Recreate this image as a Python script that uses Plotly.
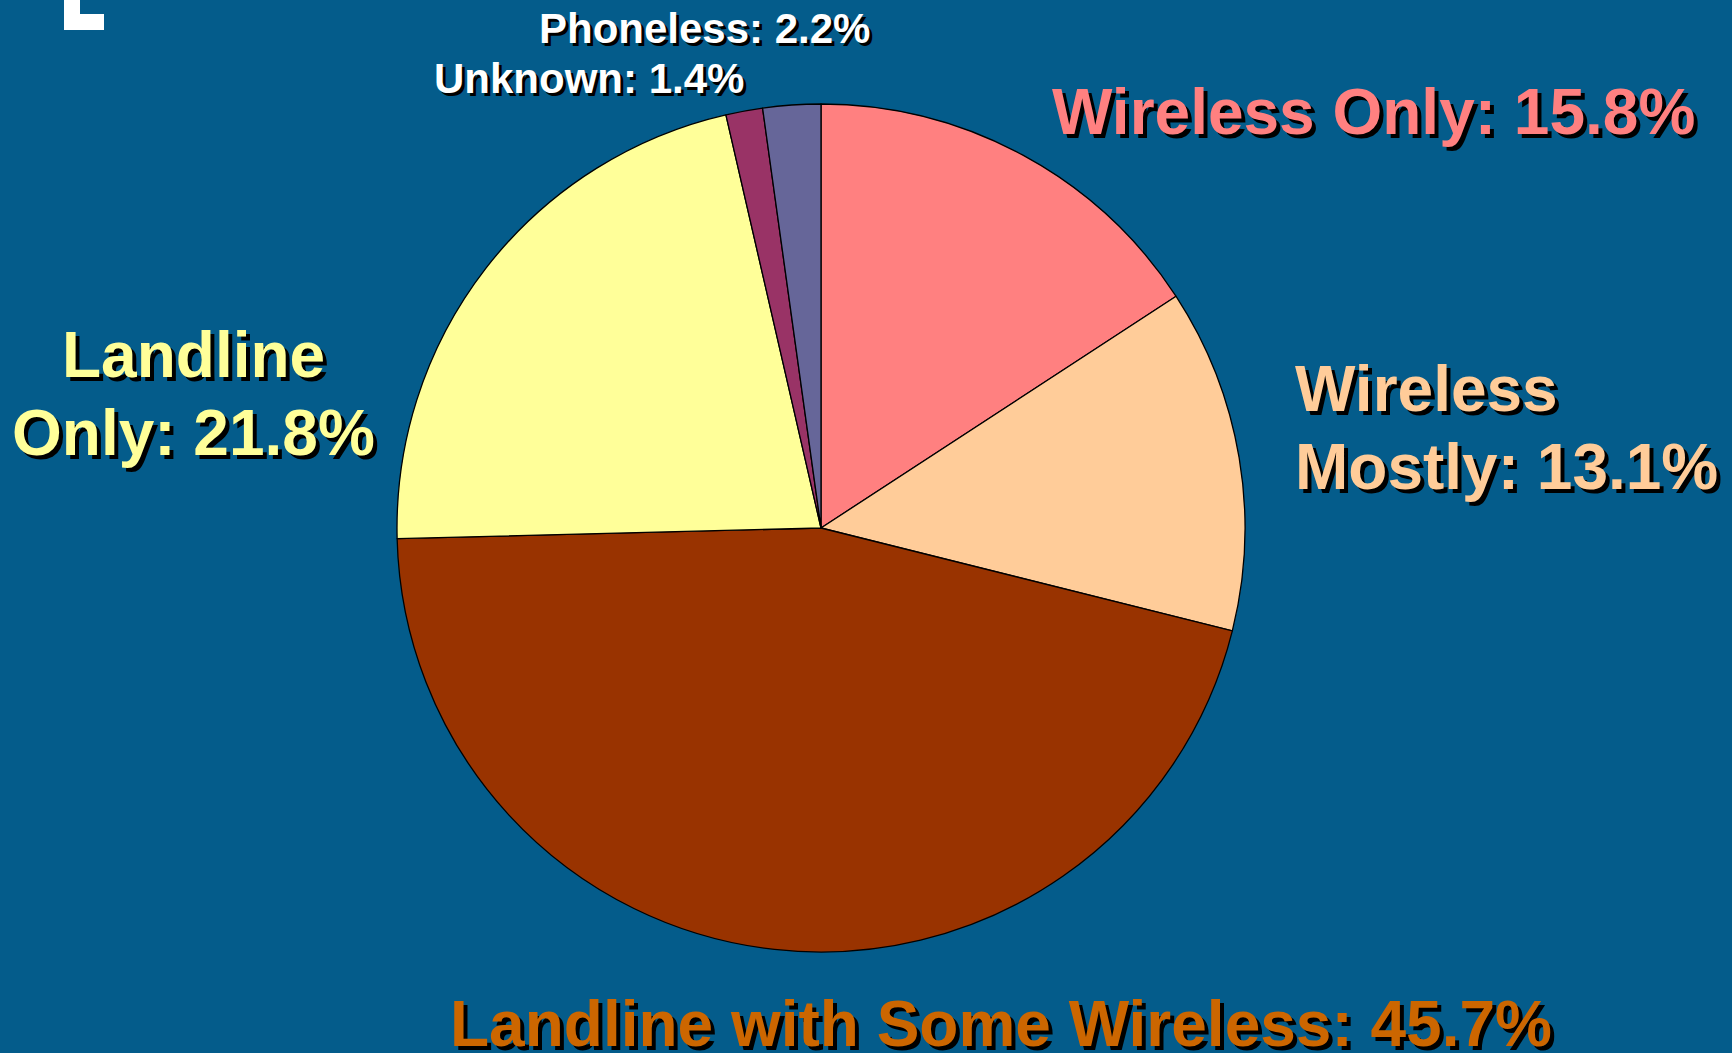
import plotly.graph_objects as go

W, H = 1732, 1053

# ---- data ----
categories = ["Wireless Only", "Wireless Mostly", "Landline with Some Wireless",
              "Landline Only", "Unknown", "Phoneless"]
shares = [15.8, 13.1, 45.7, 21.8, 1.4, 2.2]
slice_colors = ["#FF8080", "#FFCC99", "#993300", "#FFFF99", "#993366", "#666699"]
label_colors = ["#FF8080", "#FFCC99", "#CC6600", "#FFFF99", "#FFFFFF", "#FFFFFF"]

# label layout: list of (line texts) built from the data, with pixel anchors
# (line split index, anchor x px, first-line cap-centre y px, align, font size)
label_layout = {
    "Wireless Only": (None, 1373, 112, "center", 64),
    "Wireless Mostly": (1, 1293, 389, "left", 64),
    "Landline with Some Wireless": (None, 1001, 1024, "center", 64),
    "Landline Only": (1, 193, 355, "center", 64),
    "Unknown": (None, 589, 78, "center", 42),
    "Phoneless": (None, 704, 28, "center", 42),
}

BG = "#045C8B"
FONT = "Liberation Sans, Arial, sans-serif"

cx, cy, r = 821, 528, 424

fig = go.Figure(go.Pie(
    labels=categories,
    values=shares,
    sort=False,
    direction="clockwise",
    rotation=0,
    marker=dict(colors=slice_colors, line=dict(color="#000000", width=1.3)),
    textinfo="none",
    hoverinfo="label+percent",
    showlegend=False,
    domain=dict(x=[(cx - r) / W, (cx + r) / W],
                y=[(H - cy - r) / H, (H - cy + r) / H]),
))

annotations = []
for cat, val, col in zip(categories, shares, label_colors):
    split, ax, ay, align, fs = label_layout[cat]
    full = f"{cat}: {val}%"
    if split is None:
        lines = [full]
    else:
        words = cat.split(" ")
        lines = [" ".join(words[:split]), " ".join(words[split:]) + f": {val}%"]
    shadow = "4px 4px 0px #000000" if fs > 50 else "3px 3px 0px #000000"
    for i, line in enumerate(lines):
        y_px = ay + i * 78
        annotations.append(dict(
            text=line,
            x=ax / W, y=1 - y_px / H,
            xref="paper", yref="paper",
            xanchor="left" if align == "left" else "center",
            yanchor="middle",
            showarrow=False,
            font=dict(family=FONT, size=fs, color=col, weight=700, shadow=shadow),
        ))

fig.update_layout(
    width=W, height=H,
    margin=dict(l=0, r=0, t=0, b=0),
    paper_bgcolor=BG,
    plot_bgcolor=BG,
    annotations=annotations,
    shapes=[
        dict(type="rect", xref="paper", yref="paper",
             x0=64 / W, x1=80 / W, y0=1 - 15 / H, y1=1.0,
             fillcolor="#FFFFFF", line=dict(width=0)),
        dict(type="rect", xref="paper", yref="paper",
             x0=64 / W, x1=104 / W, y0=1 - 30 / H, y1=1 - 14 / H,
             fillcolor="#FFFFFF", line=dict(width=0)),
    ],
)

fig.write_html(
    "out.html",
    config={"displayModeBar": False},
    post_script="document.body.style.margin='0';document.body.style.overflow='hidden';",
)
